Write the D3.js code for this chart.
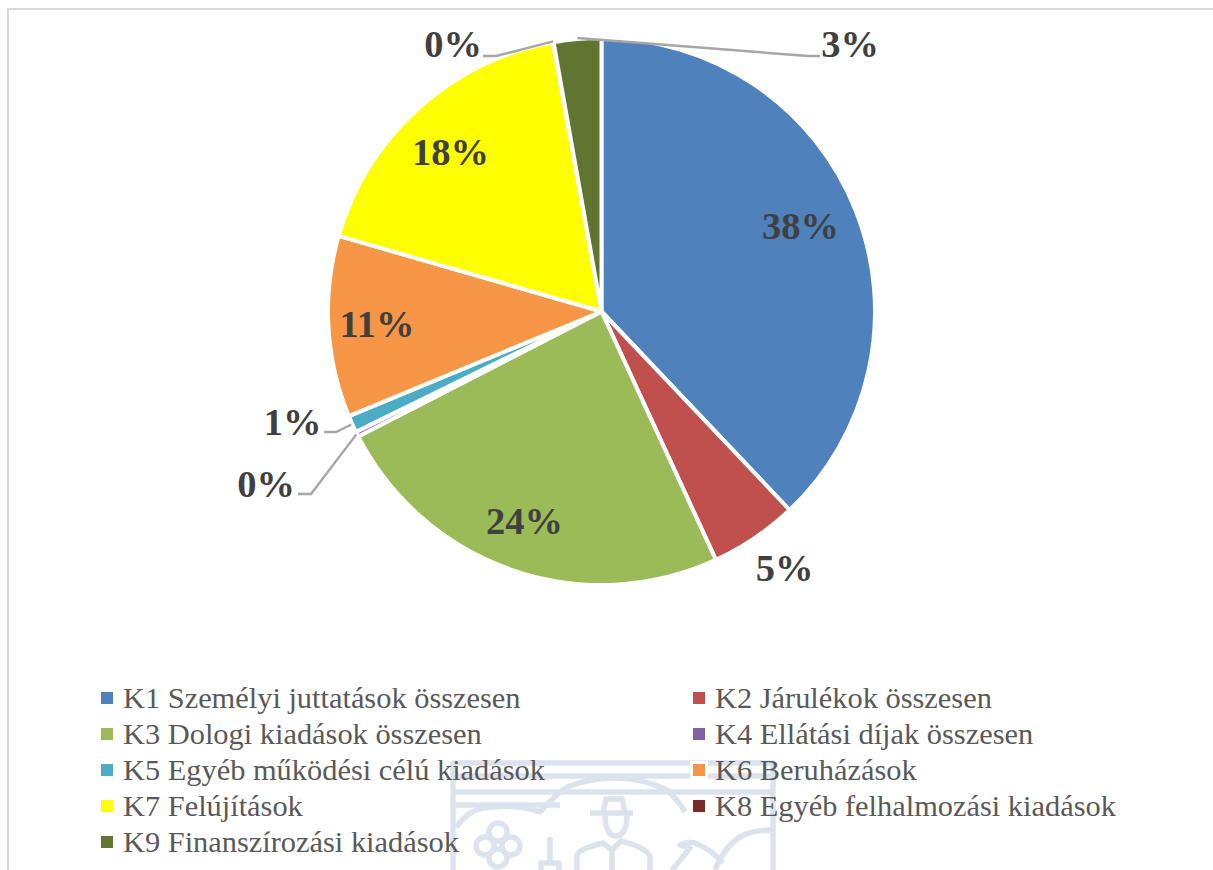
<!DOCTYPE html>
<html>
<head>
<meta charset="utf-8">
<script src="https://d3js.org/d3.v7.min.js"></script>
<style>
html, body { margin: 0; padding: 0; background: #fff; overflow: hidden; }
svg { display: block; }
.pct { font-family: "Liberation Serif", serif; font-weight: bold; font-size: 38.5px; fill: #404040; text-anchor: middle; }
.legendText { font-family: "Liberation Serif", serif; font-size: 30.4px; fill: #595959; }
.leader { fill: none; stroke: #a6a6a6; stroke-width: 2.4; }
.mark { fill: none; stroke: #dde3ed; stroke-width: 5.5; stroke-linejoin: round; }
</style>
</head>
<body>
<div id="chart"></div>
<script>
var categories = [
	"K1 Személyi juttatások összesen",
	"K2 Járulékok összesen",
	"K3 Dologi kiadások összesen",
	"K4 Ellátási díjak összesen",
	"K5 Egyéb működési célú kiadások",
	"K6 Beruházások",
	"K7 Felújítások",
	"K8 Egyéb felhalmozási kiadások",
	"K9 Finanszírozási kiadások"
];
var values = [37.9, 5.2, 24.3, 0.3, 1.0, 10.7, 17.7, 0.03, 2.8];
var colors = ["#4f81bd", "#c0504d", "#9bbb59", "#8064a2", "#4bacc6", "#f79646", "#ffff00", "#772c2a", "#5f7530"];

// label centres, in the same order as the categories
var labelPos = [[800.5, 226], [784.5, 568], [524.5, 521], [266, 484], [292.5, 422], [377, 324], [450.5, 152], [453, 44], [850, 44]];
// leader elbows, only the small slices get one
var leaders = { 3: [[311, 494], [298, 494]], 4: [[336, 432], [324, 432]], 7: [[496, 56], [483, 56]], 8: [[808, 56], [820, 56]] };

var width = 1213, height = 870;
var cx = 601.5, cy = 311.5, radius = 273.5;

var svg = d3.select("#chart").append("svg")
	.attr("width", width)
	.attr("height", height);

// page frame
svg.append("path")
	.attr("d", "M8,870V9H1213")
	.attr("fill", "none")
	.attr("stroke", "#d9d9d9")
	.attr("stroke-width", 2);

// watermark logo of the page behind the legend
var logo = svg.append("g").attr("class", "logo");
var logoPaths = [
	"M453,870V763H773V870",
	"M453,776H773", "M453,792H773", "M453,805H560",
	"M456,827Q468,811 483,808Q515,803 540,812Q553,797 567,787Q590,778 615,778Q643,778 667,790Q678,800 685,812",
	"M773,830Q752,830 740,837Q725,846 715,870",
	"M590,813H633M603,813L606,799H622L625,813M605,813Q605,836 616,836Q627,836 627,813",
	"M577,870V855Q579,849 603,843L612,850L621,841Q645,847 650,856V870M612,850V870",
	"M550,837V862M541,870V863H559V870",
	"M672,870L690,848L680,845Q690,840 697,844Q712,850 723,863"
];
logo.selectAll("path")
	.data(logoPaths)
	.enter().append("path")
	.attr("class", "mark")
	.attr("d", d => d);
logo.selectAll("circle")
	.data([[498, 832], [485, 846], [511, 846], [498, 858]])
	.enter().append("circle")
	.attr("class", "mark")
	.attr("cx", d => d[0])
	.attr("cy", d => d[1])
	.attr("r", 9);

var pie = d3.pie().sort(null).value(d => d);
var arc = d3.arc().innerRadius(0).outerRadius(radius);
var slices = pie(values);

var chart = svg.append("g").attr("transform", "translate(" + cx + "," + cy + ")");

chart.selectAll("path")
	.data(slices)
	.enter().append("path")
	.attr("d", arc)
	.attr("fill", (d, i) => colors[i])
	.attr("stroke", "#fff")
	.attr("stroke-width", 4)
	.attr("stroke-linejoin", "round");

var line = d3.line();

slices.forEach(function(d, i) {
	if (!leaders[i]) return;
	var mid = (d.startAngle + d.endAngle) / 2;
	var start = [cx + Math.sin(mid) * (radius + 1), cy - Math.cos(mid) * (radius + 1)];
	svg.append("path")
		.attr("class", "leader")
		.attr("d", line([start].concat(leaders[i])));
});

svg.selectAll(".pct")
	.data(slices)
	.enter().append("text")
	.attr("class", "pct")
	.attr("x", (d, i) => labelPos[i][0])
	.attr("y", (d, i) => labelPos[i][1] + 13)
	.text(d => Math.round(d.value) + "%");

// legend: two columns, read row by row
var rowY = d3.scalePoint().domain(d3.range(5)).range([698, 842]);
var colX = [101, 693];

var legend = svg.selectAll(".legendItem")
	.data(categories)
	.enter().append("g")
	.attr("class", "legendItem")
	.attr("transform", (d, i) => "translate(" + colX[i % 2] + "," + rowY(Math.floor(i / 2)) + ")");

legend.append("rect")
	.attr("x", -3).attr("y", -9).attr("width", 18).attr("height", 18)
	.attr("fill", "#fff");

legend.append("rect")
	.attr("x", 0).attr("y", -6).attr("width", 12).attr("height", 12)
	.attr("fill", (d, i) => colors[i]);

legend.append("text")
	.attr("class", "legendText")
	.attr("x", 22)
	.attr("y", 10)
	.text(d => d);
</script>
</body>
</html>
